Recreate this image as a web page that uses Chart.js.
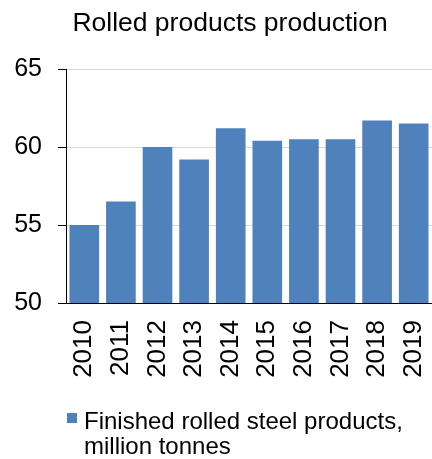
<!DOCTYPE html>
<html>
<head>
<meta charset="utf-8">
<script src="https://cdn.jsdelivr.net/npm/chart.js@4/dist/chart.umd.min.js"></script>
<style>
  html, body { margin: 0; padding: 0; background: #fff; }
  canvas { display: block; }
</style>
</head>
<body>
<canvas id="rolledChart" width="432" height="459"></canvas>
<script>
// Rolled steel output by year
const years = ['2010', '2011', '2012', '2013', '2014', '2015', '2016', '2017', '2018', '2019'];
const rolledOutput = [55.0, 56.5, 60.0, 59.2, 61.2, 60.4, 60.5, 60.5, 61.7, 61.5];
const yTicks = [50, 55, 60, 65];
const chartTitle = 'Rolled products production';
const seriesLabel = ['Finished rolled steel products,', 'million tonnes'];

const FONT = 'Arial, "Liberation Sans", sans-serif';
const BAR_BLUE = '#4f81bd';

// title and two-line legend drawn by hand so they sit where we want them
const captions = {
  id: 'captions',
  afterDraw(chart) {
    const ctx = chart.ctx;
    ctx.save();
    ctx.fillStyle = '#000';
    ctx.textBaseline = 'alphabetic';
    ctx.font = '26.5px ' + FONT;
    ctx.textAlign = 'center';
    ctx.fillText(chartTitle, 230, 31);

    ctx.fillStyle = chart.data.datasets[0].backgroundColor;
    ctx.fillRect(67, 413, 10, 10);
    ctx.fillStyle = '#000';
    ctx.font = '24px ' + FONT;
    ctx.textAlign = 'left';
    seriesLabel.forEach((line, i) => ctx.fillText(line, 84, 429 + i * 25));
    ctx.restore();
  }
};

const ctx = document.getElementById('rolledChart').getContext('2d');
new Chart(ctx, {
  type: 'bar',
  data: {
    labels: years,
    datasets: [{
      label: seriesLabel.join(' '),
      data: rolledOutput,
      backgroundColor: BAR_BLUE,
      borderWidth: 0,
      barPercentage: 0.81,
      categoryPercentage: 1.0
    }]
  },
  options: {
    responsive: false,
    animation: false,
    devicePixelRatio: 1,
    layout: { padding: { top: 69, right: 0, left: 0, bottom: 0 } },
    plugins: {
      legend: { display: false },
      title: { display: false },
      tooltip: { enabled: false }
    },
    scales: {
      x: {
        grid: { display: false, drawTicks: false },
        border: { display: true, color: '#000', width: 1 },
        ticks: {
          color: '#000',
          font: { family: FONT, size: 26 },
          minRotation: 90,
          maxRotation: 90,
          autoSkip: false,
          padding: 17
        },
        afterFit(scale) {
          scale.height = 156;
          scale.paddingLeft = 0;
          scale.paddingRight = 0;
        }
      },
      y: {
        min: 50,
        max: 65,
        afterBuildTicks(scale) {
          scale.ticks = yTicks.map(v => ({ value: v }));
        },
        grid: {
          color: '#d9d9d9',
          lineWidth: 1,
          tickColor: '#000',
          tickLength: 8
        },
        border: { display: true, color: '#000', width: 1 },
        ticks: {
          color: '#000',
          font: { family: FONT, size: 25 },
          padding: 16
        },
        afterFit(scale) { scale.width = 66; }
      }
    }
  },
  plugins: [captions]
});
</script>
</body>
</html>
